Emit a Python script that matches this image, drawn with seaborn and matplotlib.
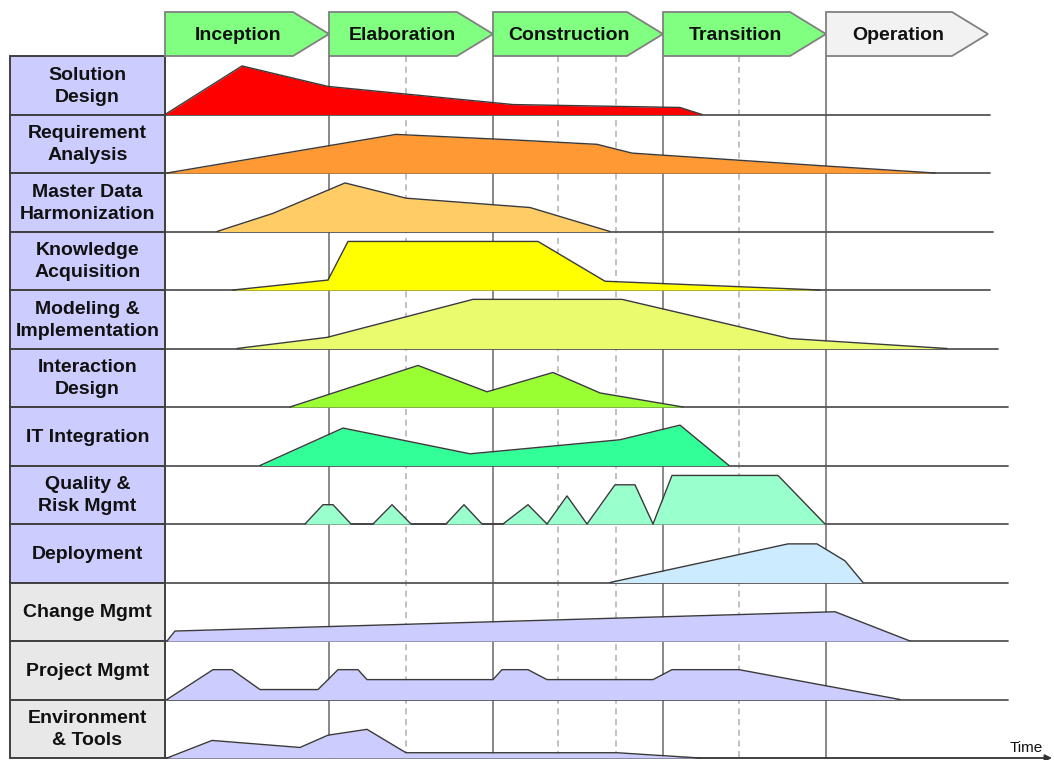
import matplotlib
matplotlib.use("Agg")
import matplotlib.pyplot as plt
from matplotlib.patches import Polygon, Rectangle
import pandas as pd
import seaborn as sns

# phases across the top (positions on the time axis)
phases = ["Inception", "Elaboration", "Construction", "Transition", "Operation"]
phase_starts = [165, 329, 493, 663, 826]
phase_ends = [329, 493, 663, 826, 988]
phase_colors = ["#80FF80", "#80FF80", "#80FF80", "#80FF80", "#F2F2F2"]
iterations = [406, 558, 616, 739]

activities = ["Solution\nDesign", "Requirement\nAnalysis", "Master Data\nHarmonization",
              "Knowledge\nAcquisition", "Modeling &\nImplementation", "Interaction\nDesign",
              "IT Integration", "Quality &\nRisk Mgmt", "Deployment",
              "Change Mgmt", "Project Mgmt", "Environment\n& Tools"]
fill_colors = ["#FF0000", "#FF9933", "#FFCC66", "#FFFF00", "#EBFB6E", "#99FF33",
               "#33FF99", "#99FFCC", "#CCEBFF", "#CCCCFF", "#CCCCFF", "#CCCCFF"]
label_colors = ["#CCCCFF"] * 9 + ["#E8E8E8"] * 3
row_line_end = [990, 990, 993, 990, 998, 1008, 1008, 1008, 1008, 1008, 1008, 1008]

# effort curves: time position and relative level (0..1 of row height)
solution_t = [165, 242, 328, 513, 680, 702]
solution_v = [0, .83, .48, .17, .12, 0]
requirement_t = [167, 396, 520, 597, 632, 825, 935]
requirement_v = [0, .66, .56, .49, .34, .12, 0]
masterdata_t = [217, 273, 345, 406, 530, 610]
masterdata_v = [0, .31, .83, .57, .41, 0]
knowledge_t = [233, 328, 348, 538, 605, 820]
knowledge_v = [0, .17, .83, .83, .15, 0]
modeling_t = [237, 327, 473, 622, 790, 947]
modeling_v = [0, .19, .84, .84, .17, 0]
interaction_t = [290, 418, 487, 553, 600, 683]
interaction_v = [0, .71, .26, .59, .24, 0]
integration_t = [260, 343, 470, 620, 680, 729]
integration_v = [0, .64, .20, .44, .69, 0]
quality_t = [305, 323, 333, 351, 373, 392, 411, 446, 464, 482, 503, 528, 547,
             567, 587, 615, 635, 653, 672, 778, 825]
quality_v = [0, .33, .33, 0, 0, .33, 0, 0, .33, 0, 0, .33, 0,
             .48, 0, .67, .67, 0, .83, .83, 0]
deployment_t = [610, 788, 817, 845, 863]
deployment_v = [0, .66, .66, .37, 0]
change_t = [167, 175, 835, 910]
change_v = [0, .17, .50, 0]
project_t = [167, 213, 232, 260, 318, 338, 358, 367, 493, 502, 528, 547, 653, 672, 739, 900]
project_v = [0, .51, .51, .17, .17, .51, .51, .34, .34, .51, .51, .34, .34, .51, .51, 0]
environment_t = [167, 212, 300, 328, 367, 406, 617, 700]
environment_v = [0, .30, .18, .39, .49, .09, .09, 0]

curves = [(solution_t, solution_v), (requirement_t, requirement_v),
          (masterdata_t, masterdata_v), (knowledge_t, knowledge_v),
          (modeling_t, modeling_v), (interaction_t, interaction_v),
          (integration_t, integration_v), (quality_t, quality_v),
          (deployment_t, deployment_v), (change_t, change_v),
          (project_t, project_v), (environment_t, environment_v)]

sns.set_style("white")
plt.rcParams['font.family'] = ['Liberation Sans', 'DejaVu Sans']

fig = plt.figure(figsize=(10.54, 7.6), dpi=100)
ax = fig.add_axes([0, 0, 1, 1])
ax.set_xlim(0, 1054)
ax.set_ylim(760, 0)

top = 56
row_h = 58.5
label_left = 10
grid_col = "#7F7F7F"

# build long table for the outlines
rows = []
for i, (t, v) in enumerate(curves):
    base = top + row_h * (i + 1)
    for tt, vv in zip(t, v):
        rows.append({'activity': i, 't': tt, 'y': base - vv * row_h})
df = pd.DataFrame(rows)

# grid: vertical phase and iteration lines
for x in phase_starts:
    ax.plot([x, x], [top, top + row_h * 12], color=grid_col, lw=1.3, zorder=1)
for x in iterations:
    ax.plot([x, x], [top, top + row_h * 12], color="#B0B0B0", lw=1.1,
            ls=(0, (4, 3)), zorder=1)

# row lines and label boxes
for i, name in enumerate(activities):
    y0 = top + row_h * i
    y1 = y0 + row_h
    if i < 11:
        ax.plot([phase_starts[0], row_line_end[i]], [y1, y1], color="#555555", lw=1.3, zorder=1)
    ax.add_patch(Rectangle((label_left, y0), phase_starts[0] - label_left, row_h,
                           facecolor=label_colors[i], edgecolor="#404040", lw=1.4, zorder=3))
    ax.text((label_left + phase_starts[0]) / 2, y0 + row_h / 2 + 1, name, ha='center', va='center',
            fontsize=14, fontweight='bold', color="#111111", linespacing=1.38, zorder=4)

# bottom axis with arrow and Time label
ax.annotate("", xy=(1052, top + row_h * 12), xytext=(phase_starts[0], top + row_h * 12),
            arrowprops=dict(arrowstyle="-|>", color="#333333", lw=1.3,
                            mutation_scale=10, shrinkA=0, shrinkB=0), zorder=2)
ax.text(1026, top + row_h * 12 - 3, "Time", ha='center', va='bottom', fontsize=11, color="#111111")

# effort fills
for i, (t, v) in enumerate(curves):
    part = df[df['activity'] == i]
    base = top + row_h * (i + 1)
    ax.fill_between(part['t'], base, part['y'], color=fill_colors[i], lw=0, zorder=2)

sns.lineplot(data=df, x='t', y='y', units='activity', estimator=None, sort=False,
             color="#3A3A3A", lw=1.0, ax=ax, zorder=3)

# phase header arrows
head_top, head_bot, notch = 12, 56, 36
for name, x0, x1, c in zip(phases, phase_starts, phase_ends, phase_colors):
    pts = [(x0, head_top), (x1 - notch, head_top), (x1, (head_top + head_bot) / 2),
           (x1 - notch, head_bot), (x0, head_bot)]
    ax.add_patch(Polygon(pts, closed=True, facecolor=c, edgecolor="#808080", lw=1.3, zorder=4))
    ax.text((x0 + x1 - 18) / 2, (head_top + head_bot) / 2 + 1, name, ha='center', va='center',
            fontsize=14, fontweight='bold', color="#111111", zorder=5)

ax.set_xlim(0, 1054)
ax.set_ylim(760, 0)
ax.set_axis_off()
fig.savefig("out.png", dpi=100, facecolor="white")
